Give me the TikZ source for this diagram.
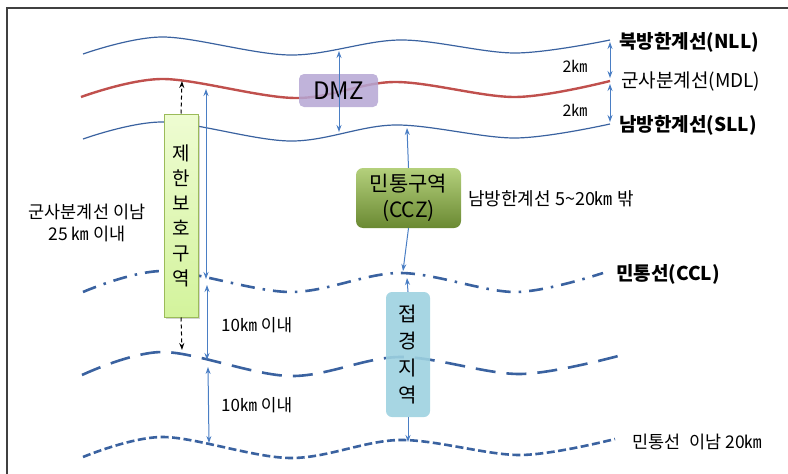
\documentclass[tikz,border=0pt]{standalone}
\usepackage{fontspec}
\setmainfont{Noto Sans CJK KR}
\usetikzlibrary{positioning,arrows.meta,shadows}
\definecolor{frame}{HTML}{404040}
\definecolor{wave}{HTML}{3A62A0}
\definecolor{mdlred}{HTML}{C0504D}
\definecolor{span}{HTML}{4A7EC4}
\definecolor{dmzfill}{HTML}{B5A6D4}
\definecolor{limittop}{HTML}{EEFCD2}
\definecolor{limitbottom}{HTML}{D3F39C}
\definecolor{limitedge}{HTML}{9BBB59}
\definecolor{cczlight}{HTML}{B4D07C}
\definecolor{cczdark}{HTML}{6A8932}
\definecolor{borderfill}{HTML}{9DD1E0}

\tikzset{
  thinwave/.style={wave,line width=1.2pt},
  redwave/.style={mdlred,line width=2.4pt},
  ccline/.style={wave,line width=2.6pt,dash pattern=on 14pt off 8pt on 2.5pt off 8pt},
  longdash/.style={wave,line width=2.6pt,dash pattern=on 20pt off 11pt},
  shortdash/.style={wave,line width=2.6pt,dash pattern=on 8pt off 3.5pt},
  both/.style={{Stealth[length=7pt,width=5pt]}-{Stealth[length=7pt,width=5pt]},span,line width=1pt},
  one/.style={-{Stealth[length=7pt,width=5pt]},span,line width=1pt},
  hint/.style={-{Stealth[length=7pt,width=5pt]},black,line width=1pt,dash pattern=on 4pt off 3pt},
  tag/.style={inner sep=0pt,font=\fontsize{17.5}{22}\selectfont},
  bold tag/.style={tag,font=\fontsize{19}{22}\selectfont\bfseries}
}

\begin{document}
\begin{tikzpicture}[x=1pt,y=-1pt]
  \useasboundingbox (0,0) rectangle (788,474);
  \draw[frame,line width=1.6pt] (7,474) -- (7,8) -- (788,8);

  % boundary lines, north to south
  \draw[thinwave] plot[smooth,tension=.55] coordinates {(83,54) (163,37) (290,55) (400,40) (515,53) (610,40)};
  \draw[redwave] plot[smooth,tension=.55] coordinates {(81,97) (163,79) (295,98) (395,82) (515,97) (610,81)};
  \draw[thinwave] plot[smooth,tension=.55] coordinates {(83,139) (163,122) (290,141) (395,125) (515,138) (610,124)};
  \draw[ccline] plot[smooth,tension=.55] coordinates {(83,292) (163,271) (290,292) (400,273) (515,292) (603,273)};
  \draw[longdash] plot[smooth,tension=.55] coordinates {(82,375) (163,352) (290,376) (400,357) (520,374) (622,355)};
  \draw[shortdash] plot[smooth,tension=.55] coordinates {(83,457) (163,437) (290,458) (400,440) (520,455) (615,439)};

  % points on the lines
  \coordinate (nll-dmz) at (339,51);
  \coordinate (sll-dmz) at (339,132);
  \coordinate (mdl-limit) at (182,81);
  \coordinate (far-limit) at (182,350);
  \coordinate (mdl-a) at (206,89);
  \coordinate (ccl-a) at (206,279);
  \coordinate (ccl-b) at (207,285);
  \coordinate (far-b) at (207,360);
  \coordinate (far-c) at (208,367);
  \coordinate (south-c) at (209,443);
  \coordinate (sll-ccz) at (407,128);
  \coordinate (ccl-ccz) at (403,271);
  \coordinate (ccl-border) at (407,278);
  \coordinate (south-border) at (408,442);
  \coordinate (nll-r) at (610,42);
  \coordinate (mdl-r1) at (610,78);
  \coordinate (mdl-r2) at (610,84);
  \coordinate (sll-r) at (610,122);

  % zones
  \node[fill=dmzfill,fill opacity=.85,text opacity=1,rounded corners=5pt,minimum width=79pt,minimum height=33pt,font=\fontsize{24}{24}\selectfont] (dmz) at (338.5,90.5) {DMZ};
  \node[top color=limittop,bottom color=limitbottom,draw=limitedge,line width=1pt,drop shadow={opacity=.35,shadow xshift=2pt,shadow yshift=-2pt},minimum width=34pt,minimum height=203pt,align=center,font=\fontsize{19}{25}\selectfont] (limit) at (181,215.5) {제\\한\\보\\호\\구\\역};
  \node[top color=cczlight,bottom color=cczdark,rounded corners=7pt,minimum width=105pt,minimum height=60pt,align=center,font=\fontsize{21}{26}\selectfont] (ccz) at (408.5,198) {민통구역\\(CCZ)};
  \node[fill=borderfill,fill opacity=.9,text opacity=1,rounded corners=6pt,minimum width=44pt,minimum height=125pt,align=center,font=\fontsize{20}{27}\selectfont] (border) at (408,354.5) {접\\경\\지\\역};

  % distances
  \draw[both] (nll-dmz) -- (sll-dmz);
  \draw[hint] (limit.north) -- (mdl-limit);
  \draw[hint] (limit.south) -- (far-limit);
  \draw[both] (mdl-a) -- (ccl-a);
  \draw[both] (ccl-b) -- (far-b);
  \draw[both] (far-c) -- (south-c);
  \draw[one] (ccz.north) -- (sll-ccz);
  \draw[one] (ccz.south) -- (ccl-ccz);
  \draw[one] (border.north) -- (ccl-border);
  \draw[one] (border.south) -- (south-border);
  \draw[both] (nll-r) -- (mdl-r1);
  \draw[both] (mdl-r2) -- (sll-r);

  % labels
  \node[bold tag,anchor=west] (nll) at (619,42) {북방한계선(NLL)};
  \node[tag,anchor=west,font=\fontsize{19}{22}\selectfont] (mdl) at (621,82) {군사분계선(MDL)};
  \node[bold tag,anchor=west] (sll) at (619,125) {남방한계선(SLL)};
  \node[bold tag,anchor=west] (ccl) at (616,274) {민통선(CCL)};
  \node[tag,font=\fontsize{16}{16}\selectfont] (km-n) at (575,66) {2㎞};
  \node[tag,font=\fontsize{16}{16}\selectfont] (km-s) at (575,110) {2㎞};
  \node[tag,align=center,font=\fontsize{17.5}{22}\selectfont] (south25) at (87,223) {군사분계선 이남\\25 ㎞ 이내};
  \node[tag,anchor=west,font=\fontsize{17}{22}\selectfont] (ten-a) at (221,325) {10㎞ 이내};
  \node[tag,anchor=west,font=\fontsize{17}{22}\selectfont] (ten-b) at (221,405) {10㎞ 이내};
  \node[tag,anchor=west,font=\fontsize{18}{22}\selectfont] (ccz-range) at (468,199) {남방한계선 5\textasciitilde20㎞ 밖};
  \node[tag,anchor=west] (south20) at (632,442) {민통선\enspace 이남 20㎞};
\end{tikzpicture}
\end{document}
